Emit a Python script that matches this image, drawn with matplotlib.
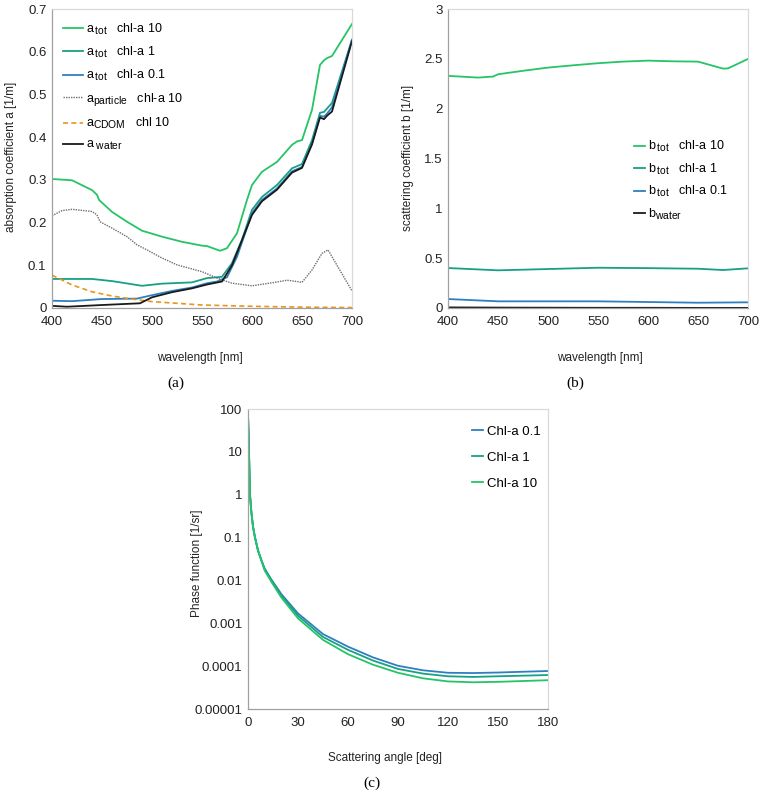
import matplotlib
matplotlib.use("Agg")
import matplotlib.pyplot as plt
from matplotlib.ticker import FixedLocator, FixedFormatter
try:
    import matplotlib._mathtext as _mt
    _mt.SHRINK_FACTOR = 0.82
except Exception:
    pass

plt.rcParams['font.family'] = ['Liberation Sans', 'DejaVu Sans']
plt.rcParams['mathtext.fontset'] = 'custom'
plt.rcParams['mathtext.rm'] = 'Liberation Sans'
plt.rcParams['mathtext.it'] = 'Liberation Sans:italic'

# ---------------- data: panel (a) absorption ----------------
wl_a10 = [400, 420, 440, 445, 447, 460, 475, 490, 510, 530, 550, 555, 568, 575, 585, 595, 600, 610, 625, 640, 645, 650, 660, 668, 672, 675, 680, 700]
a_tot10 = [0.302, 0.299, 0.276, 0.265, 0.253, 0.225, 0.202, 0.181, 0.167, 0.155, 0.146, 0.145, 0.134, 0.140, 0.175, 0.253, 0.288, 0.319, 0.342, 0.382, 0.390, 0.393, 0.464, 0.569, 0.580, 0.585, 0.590, 0.665]

wl_a1 = [400, 440, 460, 490, 510, 540, 555, 570, 580, 590, 600, 610, 625, 640, 650, 660, 668, 672, 675, 680, 700]
a_tot1 = [0.068, 0.068, 0.063, 0.052, 0.057, 0.060, 0.070, 0.073, 0.105, 0.160, 0.230, 0.260, 0.288, 0.327, 0.337, 0.393, 0.457, 0.459, 0.467, 0.480, 0.628]

wl_a01 = [400, 420, 450, 485, 500, 520, 540, 555, 565, 575, 585, 600, 610, 625, 640, 650, 660, 668, 672, 675, 680, 700]
a_tot01 = [0.017, 0.016, 0.021, 0.022, 0.030, 0.040, 0.048, 0.058, 0.062, 0.072, 0.120, 0.222, 0.253, 0.280, 0.320, 0.330, 0.385, 0.450, 0.448, 0.455, 0.470, 0.628]

wl_w = [400, 415, 450, 488, 500, 520, 540, 555, 570, 580, 600, 610, 625, 640, 650, 660, 668, 672, 675, 680, 700]
a_water = [0.005, 0.003, 0.007, 0.011, 0.025, 0.037, 0.046, 0.055, 0.062, 0.100, 0.218, 0.250, 0.277, 0.317, 0.328, 0.383, 0.446, 0.442, 0.450, 0.460, 0.625]

wl_p = [400, 410, 420, 440, 445, 448, 460, 475, 485, 495, 510, 525, 550, 565, 580, 600, 620, 635, 645, 650, 660, 670, 676, 685, 700]
a_particle = [0.216, 0.228, 0.231, 0.226, 0.218, 0.202, 0.187, 0.167, 0.148, 0.136, 0.117, 0.101, 0.085, 0.070, 0.058, 0.052, 0.059, 0.065, 0.062, 0.060, 0.089, 0.128, 0.136, 0.100, 0.040]

wl_c = [400, 420, 440, 460, 480, 500, 550, 600, 650, 700]
a_cdom = [0.077, 0.054, 0.038, 0.028, 0.021, 0.015, 0.007, 0.004, 0.002, 0.001]

# ---------------- data: panel (b) scattering ----------------
wl_b10 = [400, 430, 445, 450, 475, 500, 525, 550, 575, 600, 625, 650, 665, 675, 680, 700]
b_tot10 = [2.329, 2.312, 2.322, 2.345, 2.380, 2.412, 2.435, 2.456, 2.472, 2.482, 2.475, 2.472, 2.430, 2.402, 2.404, 2.499]
wl_b = [400, 450, 500, 550, 600, 650, 675, 700]
b_tot1 = [0.401, 0.378, 0.391, 0.404, 0.400, 0.394, 0.381, 0.398]
b_tot01 = [0.090, 0.067, 0.067, 0.067, 0.060, 0.053, 0.055, 0.057]
b_water = [0.006, 0.004, 0.003, 0.002, 0.002, 0.001, 0.001, 0.001]

# ---------------- data: panel (c) phase function ----------------
angle = [0, 0.3, 0.6, 1.2, 2, 3, 4.2, 6, 8, 10, 14, 20, 30, 45, 60, 75, 90, 105, 120, 135, 150, 165, 180]
pf_01 = [75, 30, 10, 1.0, 0.4, 0.18, 0.1, 0.05, 0.03, 0.019, 0.0105, 0.0048, 0.0017, 5.6e-4, 2.85e-4, 1.6e-4, 1.02e-4, 8.0e-5, 7.0e-5, 6.9e-5, 7.1e-5, 7.4e-5, 7.7e-5]
pf_1 = [75, 30, 10, 1.0, 0.4, 0.18, 0.1, 0.05, 0.03, 0.018, 0.0100, 0.0044, 0.0015, 4.8e-4, 2.4e-4, 1.35e-4, 8.6e-5, 6.7e-5, 5.8e-5, 5.6e-5, 5.8e-5, 6.0e-5, 6.2e-5]
pf_10 = [75, 30, 10, 1.0, 0.4, 0.18, 0.1, 0.05, 0.029, 0.017, 0.0093, 0.0040, 0.0013, 4.1e-4, 1.9e-4, 1.08e-4, 7.0e-5, 5.2e-5, 4.4e-5, 4.2e-5, 4.3e-5, 4.5e-5, 4.7e-5]

a_yticks = [0, 0.1, 0.2, 0.3, 0.4, 0.5, 0.6, 0.7]
a_ylabels = ['0', '0.1', '0.2', '0.3', '0.4', '0.5', '0.6', '0.7']
b_yticks = [0, 0.5, 1, 1.5, 2, 2.5, 3]
b_ylabels = ['0', '0.5', '1', '1.5', '2', '2.5', '3']
wl_ticks = [400, 450, 500, 550, 600, 650, 700]
c_xticks = [0, 30, 60, 90, 120, 150, 180]
c_yticks = [1e-5, 1e-4, 1e-3, 1e-2, 1e-1, 1, 10, 100]
c_ylabels = ['0.00001', '0.0001', '0.001', '0.01', '0.1', '1', '10', '100']

GREEN = '#25c466'
TEAL = '#17a085'
BLUE = '#2f7fc0'
GRAY = '#6e6e6e'
ORANGE = '#e8961c'
BLACK = '#1a1a1a'

TICK_FS = 9.5
LAB_FS = 8.5
LEG_FS = 9

fig = plt.figure(figsize=(7.64, 7.95), dpi=100)

def style(ax):
    for s in ['top', 'right']:
        ax.spines[s].set_color('#d9d9d9')
    for s in ['left', 'bottom']:
        ax.spines[s].set_color('#a0a0a0')
    for s in ax.spines.values():
        s.set_linewidth(0.9)
    ax.tick_params(length=0, labelsize=TICK_FS, colors='#222222')
    ax.tick_params(axis='y', pad=4)
    ax.tick_params(axis='x', pad=5.5)

# ---------- panel (a) ----------
ax1 = fig.add_axes([52/764, 1-308/795, 300/764, 299/795])
ax1.plot(wl_a10, a_tot10, color=GREEN, lw=1.3, label=r'a$_{\,\mathrm{tot}}$   chl-a 10')
ax1.plot(wl_a1, a_tot1, color=TEAL, lw=1.3, label=r'a$_{\,\mathrm{tot}}$   chl-a 1')
ax1.plot(wl_a01, a_tot01, color=BLUE, lw=1.3, label=r'a$_{\,\mathrm{tot}}$   chl-a 0.1')
ax1.plot(wl_p, a_particle, color=GRAY, lw=1.0, ls=(0, (1, 0.8)), label=r'a$_{\mathrm{particle}}$   chl-a 10')
ax1.plot(wl_c, a_cdom, color=ORANGE, lw=1.2, ls=(0, (3, 2)), label=r'a$_{\mathrm{CDOM}}$   chl 10')
ax1.plot(wl_w, a_water, color=BLACK, lw=1.3, label=r'a$_{\mathrm{\ water}}$')
ax1.set_xlim(400, 700)
ax1.set_ylim(0, 0.7)
ax1.set_xticks(wl_ticks)
ax1.set_yticks(a_yticks)
ax1.set_yticklabels(a_ylabels)
style(ax1)
ax1.legend(loc='upper left', bbox_to_anchor=(0.035, 0.958), frameon=False, fontsize=LEG_FS,
           handlelength=1.6, handletextpad=0.3, labelspacing=0.65, borderpad=0, borderaxespad=0)

# ---------- panel (b) ----------
ax2 = fig.add_axes([448/764, 1-308/795, 300/764, 299/795])
ax2.plot(wl_b10, b_tot10, color=GREEN, lw=1.3, label=r'b$_{\,\mathrm{tot}}$   chl-a 10')
ax2.plot(wl_b, b_tot1, color=TEAL, lw=1.3, label=r'b$_{\,\mathrm{tot}}$   chl-a 1')
ax2.plot(wl_b, b_tot01, color=BLUE, lw=1.3, label=r'b$_{\,\mathrm{tot}}$   chl-a 0.1')
ax2.plot(wl_b, b_water, color=BLACK, lw=1.3, label=r'b$_{\mathrm{water}}$')
ax2.set_xlim(400, 700)
ax2.set_ylim(0, 3)
ax2.set_xticks(wl_ticks)
ax2.set_yticks(b_yticks)
ax2.set_yticklabels(b_ylabels)
style(ax2)
ax2.legend(loc='upper left', bbox_to_anchor=(0.62, 0.564), frameon=False, fontsize=LEG_FS,
           handlelength=0.9, handletextpad=0.25, labelspacing=0.58, borderpad=0, borderaxespad=0)

# ---------- panel (c) ----------
ax3 = fig.add_axes([248/764, 1-709/795, 300/764, 300/795])
ax3.plot(angle, pf_01, color=BLUE, lw=1.3, label='Chl-a 0.1')
ax3.plot(angle, pf_1, color=TEAL, lw=1.3, label='Chl-a 1')
ax3.plot(angle, pf_10, color=GREEN, lw=1.3, label='Chl-a 10')
ax3.set_yscale('log')
ax3.set_xlim(0, 180)
ax3.set_ylim(1e-5, 100)
ax3.set_xticks(c_xticks)
ax3.yaxis.set_major_locator(FixedLocator(c_yticks))
ax3.yaxis.set_major_formatter(FixedFormatter(c_ylabels))
ax3.yaxis.set_minor_locator(FixedLocator([]))
style(ax3)
ax3.legend(loc='upper left', bbox_to_anchor=(0.745, 0.945), frameon=False, fontsize=LEG_FS + 0.5,
           handlelength=0.9, handletextpad=0.25, labelspacing=1.05, borderpad=0, borderaxespad=0)

# ---------- axis labels ----------
fig.text(11/764, 1-157/795, 'absorption coefficient a [1/m]', rotation=90, ha='center', va='center', fontsize=LAB_FS, color='#222222')
fig.text(408/764, 1-158/795, 'scattering coefficient b [1/m]', rotation=90, ha='center', va='center', fontsize=LAB_FS, color='#222222')
fig.text(197/764, 1-563/795, 'Phase function [1/sr]', rotation=90, ha='center', va='center', fontsize=LAB_FS, color='#222222')
fig.text(200/764, 1-358/795, 'wavelength [nm]', ha='center', va='center', fontsize=LAB_FS, color='#222222')
fig.text(600/764, 1-358/795, 'wavelength [nm]', ha='center', va='center', fontsize=LAB_FS, color='#222222')
fig.text(385/764, 1-758/795, 'Scattering angle [deg]', ha='center', va='center', fontsize=LAB_FS, color='#222222')

fig.text(176/764, 1-383/795, '(a)', ha='center', va='center', fontsize=11, family='Liberation Serif')
fig.text(575/764, 1-383/795, '(b)', ha='center', va='center', fontsize=11, family='Liberation Serif')
fig.text(372/764, 1-783/795, '(c)', ha='center', va='center', fontsize=11, family='Liberation Serif')

fig.savefig('out.png', dpi=100)
